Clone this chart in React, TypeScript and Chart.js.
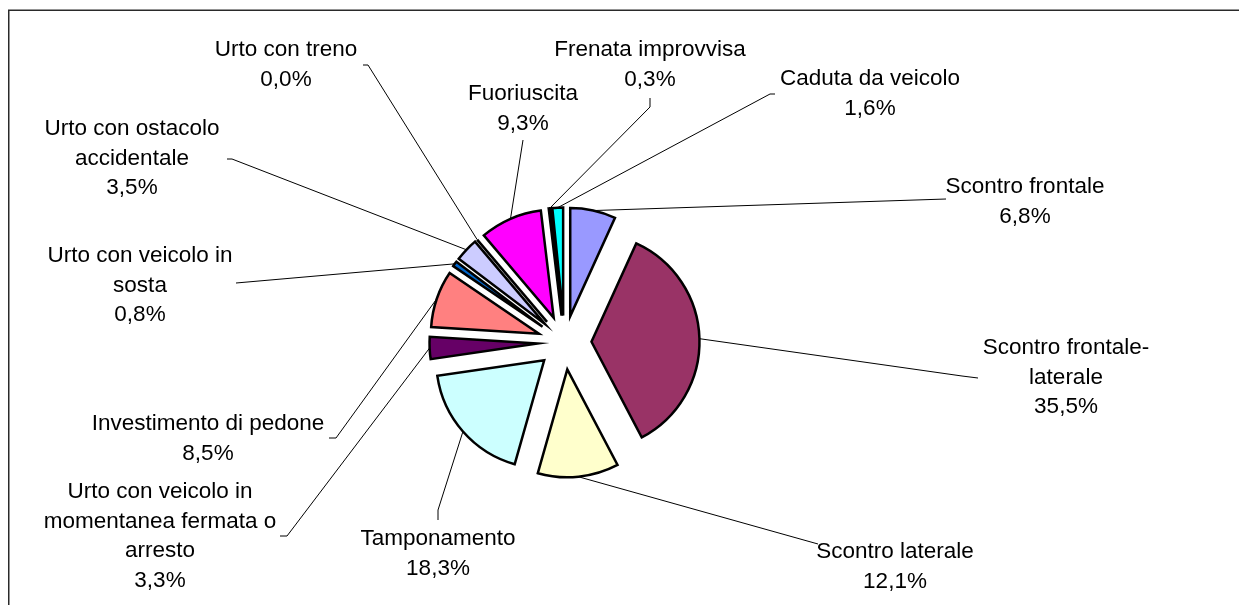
import React, { useEffect, useRef } from "react";
import { Chart, registerables } from "chart.js";

Chart.register(...registerables);

// ---- data ----
const categories = [
  "Scontro frontale",
  "Scontro frontale-laterale",
  "Scontro laterale",
  "Tamponamento",
  "Urto con veicolo in momentanea fermata o arresto",
  "Investimento di pedone",
  "Urto con veicolo in sosta",
  "Urto con ostacolo accidentale",
  "Urto con treno",
  "Fuoriuscita",
  "Frenata improvvisa",
  "Caduta da veicolo",
];
const values = [6.8, 35.5, 12.1, 18.3, 3.3, 8.5, 0.8, 3.5, 0.0, 9.3, 0.3, 1.6];
const percentLabels = ["6,8%", "35,5%", "12,1%", "18,3%", "3,3%", "8,5%", "0,8%", "3,5%", "0,0%", "9,3%", "0,3%", "1,6%"];
const labelLines = [
  ["Scontro frontale"],
  ["Scontro frontale-", "laterale"],
  ["Scontro laterale"],
  ["Tamponamento"],
  ["Urto con veicolo in", "momentanea fermata o", "arresto"],
  ["Investimento di pedone"],
  ["Urto con veicolo in", "sosta"],
  ["Urto con ostacolo", "accidentale"],
  ["Urto con treno"],
  ["Fuoriuscita"],
  ["Frenata improvvisa"],
  ["Caduta da veicolo"],
];
const colors = [
  "#9999FF", "#993366", "#FFFFCC", "#CCFFFF", "#660066", "#FF8080",
  "#0066CC", "#CCCCFF", "#000080", "#FF00FF", "#FFFF00", "#00FFFF",
];

// ---- layout (page coordinates) ----
const W = 1231;
const H = 597;
const OFF = 8;
const EXPLODE = 27;
const RADIUS = 108;
const FONT = '22.5px "Liberation Sans", Arial, sans-serif';
const LINE_H = 29.5;
// label block: center x, first line center y
const labelPos: [number, number][] = [
  [1025, 187],
  [1066, 348],
  [895, 552],
  [438, 539],
  [160, 492],
  [208, 424],
  [140, 256],
  [132, 129],
  [286, 50],
  [523, 94],
  [650, 50],
  [870, 79],
];
// leader line points (from slice outward to label)
const leaderPts: [number, number][][] = [
  [[946, 199]],
  [[962, 376], [978, 378]],
  [[818, 544]],
  [[438, 510], [438, 520]],
  [[287, 536], [280, 536]],
  [[336, 438], [329, 438]],
  [[236, 283]],
  [[232, 159], [227, 159]],
  [[368, 65], [363, 65]],
  [[523, 140]],
  [[650, 107], [650, 98]],
  [[770, 94], [775, 94]],
];

const explodePlugin = {
  id: "explodeSlices",
  beforeDraw(chart: any) {
    const ctx = chart.ctx;
    ctx.save();
    ctx.strokeStyle = "#2a2a2a";
    ctx.lineWidth = 1.5;
    ctx.beginPath();
    ctx.moveTo(0.75, H + 10);
    ctx.lineTo(0.75, 2.25);
    ctx.lineTo(W + 10, 2.25);
    ctx.stroke();
    ctx.restore();
  },
  beforeDatasetDraw(chart: any, args: any) {
    const ctx = chart.ctx;
    const meta = args.meta;
    meta.data.forEach((arc: any) => {
      const { startAngle, endAngle, x, y, outerRadius } = arc.getProps(
        ["startAngle", "endAngle", "x", "y", "outerRadius"],
        true
      );
      const circ = endAngle - startAngle;
      const mid = circ > 0 ? (startAngle + endAngle) / 2 : startAngle;
      ctx.save();
      ctx.translate(Math.cos(mid) * EXPLODE, Math.sin(mid) * EXPLODE);
      if (circ <= 0) {
        ctx.beginPath();
        ctx.moveTo(x, y);
        ctx.lineTo(x + Math.cos(startAngle) * outerRadius, y + Math.sin(startAngle) * outerRadius);
        ctx.lineWidth = 2.5;
        ctx.strokeStyle = "#000";
        ctx.stroke();
      } else {
        arc.draw(ctx);
      }
      ctx.restore();
    });
    return false;
  },
  afterDatasetsDraw(chart: any) {
    const ctx = chart.ctx;
    const meta = chart.getDatasetMeta(0);
    ctx.save();
    meta.data.forEach((arc: any, i: number) => {
      const { startAngle, endAngle, x, y, outerRadius } = arc.getProps(
        ["startAngle", "endAngle", "x", "y", "outerRadius"],
        true
      );
      const circ = endAngle - startAngle;
      const mid = circ > 0 ? (startAngle + endAngle) / 2 : startAngle;
      const r = outerRadius + EXPLODE;
      const ax = x + Math.cos(mid) * r;
      const ay = y + Math.sin(mid) * r;
      ctx.beginPath();
      ctx.moveTo(ax, ay);
      leaderPts[i].forEach(([px, py]) => ctx.lineTo(px - OFF, py - OFF));
      ctx.strokeStyle = "#000";
      ctx.lineWidth = 1;
      ctx.stroke();

      const lines = [...labelLines[i], percentLabels[i]];
      const [cx, y0] = labelPos[i];
      ctx.font = FONT;
      ctx.fillStyle = "#000";
      ctx.textAlign = "center";
      ctx.textBaseline = "middle";
      lines.forEach((t, k) => ctx.fillText(t, cx - OFF, y0 - OFF + k * LINE_H));
    });
    ctx.restore();
  },
};

export default function App() {
  const ref = useRef<HTMLCanvasElement | null>(null);
  useEffect(() => {
    if (!ref.current) return;
    const chart = new Chart(ref.current, {
      type: "pie",
      data: {
        labels: categories,
        datasets: [
          {
            data: values,
            backgroundColor: colors,
            borderColor: "#000",
            borderWidth: 2.5,
            borderJoinStyle: "miter",
          } as any,
        ],
      },
      options: {
        animation: false,
        responsive: false,
        devicePixelRatio: 1,
        radius: RADIUS,
        layout: { padding: { left: 0, right: 118, top: 72, bottom: 0 } },
        plugins: { legend: { display: false }, tooltip: { enabled: false } },
      } as any,
      plugins: [explodePlugin],
    });
    return () => chart.destroy();
  }, []);
  return <canvas ref={ref} width={W} height={H} style={{ display: "block" }} />;
}
